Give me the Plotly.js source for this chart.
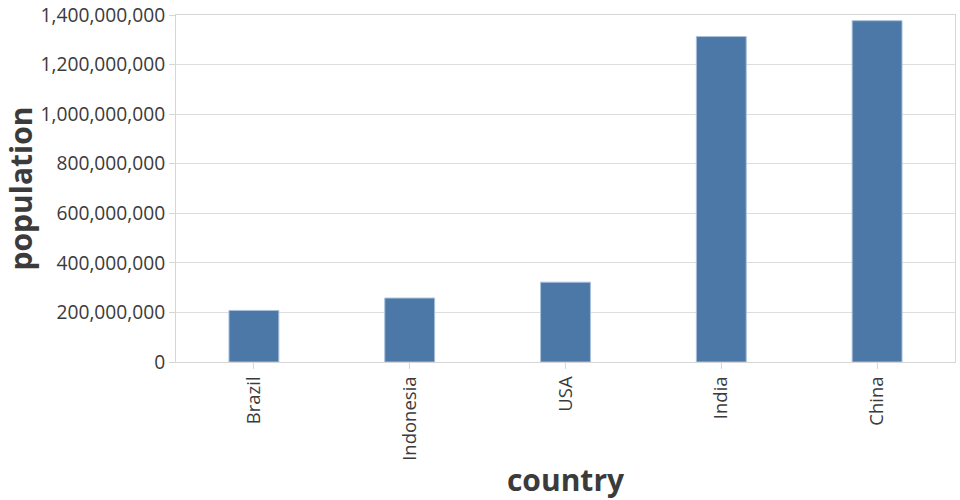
<!DOCTYPE html>
<html>
<head>
<meta charset="utf-8">
<script src="https://cdn.plot.ly/plotly-3.0.1.min.js"></script>
<style>html,body{margin:0;padding:0;background:#fff;}#chart{width:960px;height:500px;}</style>
</head>
<body>
<div id="chart"></div>
<script>
const countries = ["Brazil", "Indonesia", "USA", "India", "China"];
const population = [208000000, 258000000, 322000000, 1313000000, 1377000000];
const yTicks = [0, 200000000, 400000000, 600000000, 800000000, 1000000000, 1200000000, 1400000000];

const trace = {
  type: "bar",
  x: countries,
  y: population,
  marker: {color: "#4c78a8", line: {color: "#a9bfd9", width: 1}},
  hoverinfo: "x+y"
};

const layout = {
  width: 960, height: 500,
  margin: {l: 176, r: 5, t: 15, b: 138},
  paper_bgcolor: "#ffffff", plot_bgcolor: "#ffffff",
  bargap: 0.68,
  font: {family: "Open Sans", color: "#3b3b3b", size: 18},
  showlegend: false,
  xaxis: {
    type: "category",
    tickangle: -90,
    ticks: "outside", ticklen: 6, tickcolor: "#d6d6d6", tickwidth: 1,
    showline: true, linecolor: "#d6d6d6", linewidth: 1, mirror: true,
    showgrid: false,
    tickfont: {family: "Open Sans", size: 18.5, color: "#3b3b3b"},
    title: {text: "country", font: {family: "Open Sans", size: 30, weight: "bold", color: "#3b3b3b"}, standoff: 10}
  },
  yaxis: {
    range: [0, 1400000000],
    tickvals: yTicks,
    tickformat: ",d",
    ticks: "outside", ticklen: 6, tickcolor: "#d6d6d6", tickwidth: 1,
    showline: true, linecolor: "#d6d6d6", linewidth: 1, mirror: true,
    showgrid: true, gridcolor: "#dedede", gridwidth: 1,
    zeroline: false,
    tickfont: {family: "Open Sans", size: 19.2, color: "#3b3b3b"},
    title: {text: "population", font: {family: "Open Sans", size: 30, weight: "bold", color: "#3b3b3b"}, standoff: 6}
  }
};

Plotly.newPlot("chart", [trace], layout, {displayModeBar: false, staticPlot: true});
</script>
</body>
</html>
